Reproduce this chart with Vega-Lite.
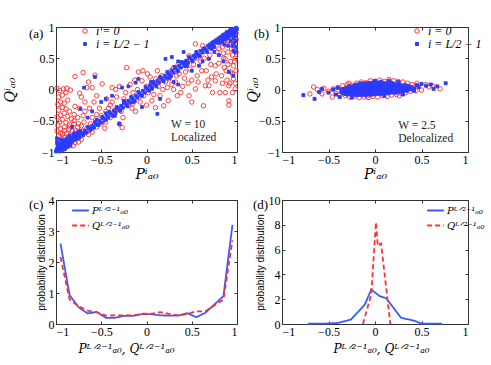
{
"$schema":"https://vega.github.io/schema/vega-lite/v6.json",
"padding":{"left":2,"top":20,"right":5,"bottom":5},
"config":{
"font":"Liberation Serif",
"view":{"stroke":"#333","strokeWidth":1},
"axis":{"grid":false,"domain":false,"tickColor":"#333","tickSize":-3,"labelFont":"Liberation Serif","labelFontSize":12,"labelColor":"#000","titleFont":"DejaVu Serif","titleFontSize":14,"titleFontWeight":"normal","titleFontStyle":"italic","titleColor":"#000","labelPadding":5},
"legend":{"title":null},
"title":{"font":"Liberation Serif","fontSize":13,"fontWeight":"normal","anchor":"start","frame":"group","offset":0,"baseline":"middle","color":"#000"}
},
"datasets":{
"a":[
{"p":-0.95,"q":-0.7,"s":"r"},{"p":-0.9,"q":-0.66,"s":"r"},{"p":-0.85,"q":-0.6,"s":"r"},{"p":-0.8,"q":-0.5,"s":"r"},{"p":-0.75,"q":-0.55,"s":"r"},{"p":-0.7,"q":-0.66,"s":"r"},{"p":-0.68,"q":-0.35,"s":"r"},{"p":-0.63,"q":-0.3,"s":"r"},{"p":-0.58,"q":-0.2,"s":"r"},{"p":-0.55,"q":-0.4,"s":"r"},{"p":-0.5,"q":-0.55,"s":"r"},{"p":-0.46,"q":-0.62,"s":"r"},{"p":-0.42,"q":-0.3,"s":"r"},{"p":-0.38,"q":-0.2,"s":"r"},{"p":-0.33,"q":-0.12,"s":"r"},{"p":-0.3,"q":0.05,"s":"r"},{"p":-0.26,"q":-0.45,"s":"r"},{"p":-0.23,"q":-0.05,"s":"r"},{"p":-0.18,"q":0.08,"s":"r"},{"p":-0.16,"q":-0.3,"s":"r"},{"p":-0.13,"q":0.15,"s":"r"},{"p":-0.07,"q":-0.2,"s":"r"},{"p":-0.04,"q":0.3,"s":"r"},{"p":0.0,"q":-0.25,"s":"r"},{"p":0.04,"q":0.2,"s":"r"},{"p":0.08,"q":-0.08,"s":"r"},{"p":0.12,"q":0.3,"s":"r"},{"p":0.18,"q":0.0,"s":"r"},{"p":0.24,"q":-0.18,"s":"r"},{"p":0.28,"q":0.08,"s":"r"},{"p":0.33,"q":0.22,"s":"r"},{"p":0.38,"q":-0.05,"s":"r"},{"p":0.43,"q":0.28,"s":"r"},{"p":0.46,"q":0.1,"s":"r"},{"p":0.52,"q":0.4,"s":"r"},{"p":0.57,"q":0.12,"s":"r"},{"p":0.61,"q":0.3,"s":"r"},{"p":0.64,"q":0.5,"s":"r"},{"p":0.68,"q":0.15,"s":"r"},{"p":0.71,"q":0.4,"s":"r"},{"p":0.73,"q":-0.05,"s":"r"},{"p":0.77,"q":0.25,"s":"r"},{"p":0.8,"q":0.65,"s":"r"},{"p":0.84,"q":0.1,"s":"r"},{"p":0.88,"q":0.3,"s":"r"},{"p":0.9,"q":0.4,"s":"r"},{"p":0.94,"q":0.65,"s":"r"},{"p":0.97,"q":0.45,"s":"r"},{"p":0.99,"q":0.6,"s":"r"},{"p":0.95,"q":0.25,"s":"r"},{"p":0.92,"q":0.1,"s":"r"},{"p":0.85,"q":0.58,"s":"r"},{"p":0.89,"q":0.72,"s":"r"},{"p":0.99,"q":0.8,"s":"r"},{"p":0.94,"q":0.76,"s":"r"},
{"p":-0.99,"q":-0.97,"s":"r"},{"p":-0.97,"q":-0.93,"s":"r"},{"p":-0.95,"q":-0.98,"s":"r"},{"p":-0.93,"q":-0.9,"s":"r"},{"p":-0.91,"q":-0.95,"s":"r"},{"p":-0.98,"q":-0.88,"s":"r"},{"p":-0.96,"q":-0.84,"s":"r"},{"p":-0.92,"q":-0.86,"s":"r"},{"p":-0.89,"q":-0.9,"s":"r"},{"p":-0.87,"q":-0.84,"s":"r"},{"p":-0.85,"q":-0.88,"s":"r"},{"p":-0.83,"q":-0.82,"s":"r"},{"p":-0.81,"q":-0.9,"s":"r"},{"p":-0.79,"q":-0.85,"s":"r"},{"p":-0.94,"q":-0.79,"s":"r"},{"p":-0.9,"q":-0.77,"s":"r"},{"p":-0.86,"q":-0.76,"s":"r"},{"p":-0.97,"q":-0.74,"s":"r"},{"p":-0.93,"q":-0.71,"s":"r"},{"p":-0.88,"q":-0.7,"s":"r"},{"p":-0.84,"q":-0.73,"s":"r"},{"p":-0.8,"q":-0.76,"s":"r"},{"p":-0.77,"q":-0.78,"s":"r"},{"p":-0.75,"q":-0.84,"s":"r"},{"p":-0.72,"q":-0.8,"s":"r"},{"p":-0.99,"q":-0.66,"s":"r"},{"p":-0.95,"q":-0.63,"s":"r"},{"p":-0.91,"q":-0.6,"s":"r"},{"p":-0.86,"q":-0.64,"s":"r"},{"p":-0.82,"q":-0.67,"s":"r"},{"p":-0.78,"q":-0.66,"s":"r"},{"p":-0.74,"q":-0.7,"s":"r"},
{"p":-0.98,"q":-0.57,"s":"r"},{"p":-0.96,"q":-0.52,"s":"r"},{"p":-0.93,"q":-0.48,"s":"r"},{"p":-0.89,"q":-0.53,"s":"r"},{"p":-0.85,"q":-0.56,"s":"r"},{"p":-0.99,"q":-0.44,"s":"r"},{"p":-0.95,"q":-0.41,"s":"r"},{"p":-0.91,"q":-0.38,"s":"r"},{"p":-0.87,"q":-0.43,"s":"r"},{"p":-0.83,"q":-0.47,"s":"r"},{"p":-0.97,"q":-0.33,"s":"r"},{"p":-0.93,"q":-0.29,"s":"r"},{"p":-0.89,"q":-0.31,"s":"r"},{"p":-0.85,"q":-0.35,"s":"r"},{"p":-0.98,"q":-0.24,"s":"r"},{"p":-0.95,"q":-0.2,"s":"r"},{"p":-0.91,"q":-0.22,"s":"r"},{"p":-0.87,"q":-0.17,"s":"r"},{"p":-0.97,"q":-0.12,"s":"r"},{"p":-0.93,"q":-0.09,"s":"r"},{"p":-0.89,"q":-0.05,"s":"r"},{"p":-0.96,"q":-0.02,"s":"r"},{"p":-0.92,"q":0.01,"s":"r"},{"p":-0.88,"q":0.02,"s":"r"},{"p":-0.84,"q":-0.01,"s":"r"},{"p":-0.99,"q":0.02,"s":"r"},
{"p":-0.8,"q":-0.55,"s":"r"},{"p":-0.76,"q":-0.6,"s":"r"},{"p":-0.72,"q":-0.58,"s":"r"},{"p":-0.8,"q":-0.4,"s":"r"},{"p":-0.76,"q":-0.45,"s":"r"},{"p":-0.7,"q":-0.42,"s":"r"},{"p":-0.79,"q":-0.27,"s":"r"},{"p":-0.74,"q":-0.3,"s":"r"},{"p":-0.69,"q":-0.52,"s":"r"},{"p":-0.66,"q":-0.62,"s":"r"},{"p":-0.64,"q":-0.72,"s":"r"},{"p":-0.62,"q":-0.55,"s":"r"},{"p":-0.6,"q":-0.45,"s":"r"},{"p":-0.72,"q":-0.12,"s":"r"},{"p":-0.68,"q":-0.2,"s":"r"},{"p":-0.74,"q":-0.06,"s":"r"},{"p":-0.79,"q":0.21,"s":"r"},{"p":-0.7,"q":0.27,"s":"r"},{"p":-0.66,"q":0.03,"s":"r"},{"p":-0.6,"q":0.03,"s":"r"},{"p":-0.57,"q":0.23,"s":"r"},{"p":-0.64,"q":0.12,"s":"r"},{"p":-0.55,"q":-0.1,"s":"r"},{"p":-0.52,"q":-0.3,"s":"r"},{"p":-0.5,"q":-0.42,"s":"r"},{"p":-0.48,"q":-0.5,"s":"r"},{"p":-0.45,"q":-0.35,"s":"r"},{"p":-0.44,"q":-0.15,"s":"r"},{"p":-0.49,"q":0.09,"s":"r"},{"p":-0.38,"q":0.03,"s":"r"},{"p":-0.34,"q":0.0,"s":"r"},{"p":-0.4,"q":-0.25,"s":"r"},{"p":-0.36,"q":-0.4,"s":"r"},{"p":-0.3,"q":-0.55,"s":"r"},{"p":-0.27,"q":-0.61,"s":"r"},{"p":-0.32,"q":-0.3,"s":"r"},
{"p":-0.25,"q":-0.15,"s":"r"},{"p":-0.22,"q":0.35,"s":"r"},{"p":-0.2,"q":-0.25,"s":"r"},{"p":-0.15,"q":-0.05,"s":"r"},{"p":-0.12,"q":-0.35,"s":"r"},{"p":-0.1,"q":0.0,"s":"r"},{"p":-0.09,"q":0.28,"s":"r"},{"p":-0.05,"q":0.14,"s":"r"},{"p":-0.03,"q":-0.1,"s":"r"},{"p":0.01,"q":0.25,"s":"r"},{"p":0.02,"q":-0.05,"s":"r"},{"p":0.05,"q":0.08,"s":"r"},{"p":0.06,"q":-0.18,"s":"r"},{"p":0.1,"q":-0.29,"s":"r"},{"p":0.1,"q":0.17,"s":"r"},{"p":0.13,"q":0.05,"s":"r"},{"p":0.15,"q":-0.1,"s":"r"},{"p":0.17,"q":0.22,"s":"r"},{"p":0.19,"q":-0.26,"s":"r"},{"p":0.21,"q":0.12,"s":"r"},{"p":0.23,"q":0.03,"s":"r"},{"p":0.25,"q":0.17,"s":"r"},{"p":0.27,"q":0.3,"s":"r"},{"p":0.3,"q":0.0,"s":"r"},{"p":0.32,"q":0.12,"s":"r"},{"p":0.34,"q":-0.1,"s":"r"},{"p":0.36,"q":0.25,"s":"r"},{"p":0.39,"q":0.38,"s":"r"},{"p":0.4,"q":0.05,"s":"r"},{"p":0.42,"q":0.18,"s":"r"},{"p":0.44,"q":0.45,"s":"r"},{"p":0.47,"q":0.54,"s":"r"},{"p":0.47,"q":-0.1,"s":"r"},{"p":0.48,"q":0.33,"s":"r"},{"p":0.5,"q":-0.2,"s":"r"},{"p":0.5,"q":0.15,"s":"r"},{"p":0.54,"q":0.73,"s":"r"},{"p":0.54,"q":0.01,"s":"r"},{"p":0.56,"q":0.22,"s":"r"},{"p":0.58,"q":0.6,"s":"r"},{"p":0.6,"q":0.45,"s":"r"},{"p":0.62,"q":0.7,"s":"r"},{"p":0.63,"q":-0.26,"s":"r"},{"p":0.65,"q":0.06,"s":"r"},{"p":0.66,"q":0.3,"s":"r"},{"p":0.69,"q":0.06,"s":"r"},{"p":0.7,"q":0.55,"s":"r"},{"p":0.72,"q":0.2,"s":"r"},{"p":0.74,"q":0.75,"s":"r"},{"p":0.76,"q":0.38,"s":"r"},{"p":0.76,"q":0.14,"s":"r"},{"p":0.78,"q":0.6,"s":"r"},
{"p":0.8,"q":0.42,"s":"r"},{"p":0.81,"q":-0.05,"s":"r"},{"p":0.83,"q":0.22,"s":"r"},{"p":0.84,"q":0.68,"s":"r"},{"p":0.85,"q":0.5,"s":"r"},{"p":0.86,"q":0.35,"s":"r"},{"p":0.87,"q":-0.05,"s":"r"},{"p":0.87,"q":0.49,"s":"r"},{"p":0.88,"q":0.8,"s":"r"},{"p":0.89,"q":0.15,"s":"r"},{"p":0.9,"q":0.6,"s":"r"},{"p":0.91,"q":0.06,"s":"r"},{"p":0.91,"q":-0.18,"s":"r"},{"p":0.91,"q":-0.25,"s":"r"},{"p":0.92,"q":0.72,"s":"r"},{"p":0.93,"q":0.28,"s":"r"},{"p":0.93,"q":0.45,"s":"r"},{"p":0.94,"q":0.88,"s":"r"},{"p":0.95,"q":0.55,"s":"r"},{"p":0.96,"q":0.17,"s":"r"},{"p":0.96,"q":0.38,"s":"r"},{"p":0.97,"q":0.78,"s":"r"},{"p":0.97,"q":0.65,"s":"r"},{"p":0.98,"q":0.01,"s":"r"},{"p":0.98,"q":0.5,"s":"r"},{"p":0.99,"q":0.9,"s":"r"},{"p":0.99,"q":0.3,"s":"r"},{"p":0.96,"q":0.95,"s":"r"},{"p":0.93,"q":0.92,"s":"r"},{"p":0.9,"q":0.86,"s":"r"},{"p":0.86,"q":0.82,"s":"r"},{"p":0.82,"q":0.76,"s":"r"},{"p":0.98,"q":0.1,"s":"r"},{"p":0.95,"q":-0.05,"s":"r"},
{"p":-0.6,"q":-0.68,"s":"r"},{"p":-0.55,"q":-0.6,"s":"r"},{"p":-0.45,"q":-0.52,"s":"r"},{"p":-0.4,"q":-0.45,"s":"r"},{"p":-0.35,"q":-0.33,"s":"r"},{"p":-0.28,"q":-0.35,"s":"r"},{"p":-0.2,"q":-0.2,"s":"r"},{"p":-0.15,"q":-0.22,"s":"r"},{"p":-0.08,"q":-0.12,"s":"r"},{"p":0.0,"q":0.05,"s":"r"},{"p":0.08,"q":0.1,"s":"r"},{"p":0.15,"q":0.18,"s":"r"},{"p":0.22,"q":0.2,"s":"r"},{"p":0.3,"q":0.35,"s":"r"},{"p":0.35,"q":0.4,"s":"r"},{"p":0.45,"q":0.42,"s":"r"},{"p":0.55,"q":0.5,"s":"r"},{"p":0.65,"q":0.62,"s":"r"},{"p":0.7,"q":0.68,"s":"r"},
{"p":-1.0,"q":-0.99,"s":"b"},{"p":-0.99,"q":-0.95,"s":"b"},{"p":-0.98,"q":-0.98,"s":"b"},{"p":-0.97,"q":-0.93,"s":"b"},{"p":-0.96,"q":-0.96,"s":"b"},{"p":-0.95,"q":-0.9,"s":"b"},{"p":-0.94,"q":-0.94,"s":"b"},{"p":-0.93,"q":-0.88,"s":"b"},{"p":-0.92,"q":-0.92,"s":"b"},{"p":-0.91,"q":-0.86,"s":"b"},{"p":-0.9,"q":-0.9,"s":"b"},{"p":-0.89,"q":-0.84,"s":"b"},{"p":-0.88,"q":-0.88,"s":"b"},{"p":-0.87,"q":-0.82,"s":"b"},{"p":-0.86,"q":-0.86,"s":"b"},{"p":-0.85,"q":-0.8,"s":"b"},{"p":-0.84,"q":-0.85,"s":"b"},{"p":-0.83,"q":-0.78,"s":"b"},{"p":-0.82,"q":-0.83,"s":"b"},{"p":-0.81,"q":-0.77,"s":"b"},{"p":-0.8,"q":-0.81,"s":"b"},{"p":-0.78,"q":-0.75,"s":"b"},{"p":-0.77,"q":-0.79,"s":"b"},{"p":-0.75,"q":-0.73,"s":"b"},{"p":-0.74,"q":-0.77,"s":"b"},{"p":-0.72,"q":-0.7,"s":"b"},{"p":-0.7,"q":-0.73,"s":"b"},{"p":-0.68,"q":-0.66,"s":"b"},{"p":-0.66,"q":-0.69,"s":"b"},{"p":-0.64,"q":-0.62,"s":"b"},{"p":-0.62,"q":-0.65,"s":"b"},{"p":-0.6,"q":-0.58,"s":"b"},{"p":-0.58,"q":-0.61,"s":"b"},{"p":-0.56,"q":-0.55,"s":"b"},{"p":-0.54,"q":-0.57,"s":"b"},{"p":-0.52,"q":-0.5,"s":"b"},{"p":-0.5,"q":-0.53,"s":"b"},{"p":-0.48,"q":-0.46,"s":"b"},{"p":-0.46,"q":-0.49,"s":"b"},{"p":-0.44,"q":-0.42,"s":"b"},{"p":-0.42,"q":-0.45,"s":"b"},{"p":-0.4,"q":-0.38,"s":"b"},{"p":-0.38,"q":-0.41,"s":"b"},{"p":-0.36,"q":-0.34,"s":"b"},{"p":-0.34,"q":-0.37,"s":"b"},{"p":-0.32,"q":-0.3,"s":"b"},{"p":-0.3,"q":-0.33,"s":"b"},{"p":-0.28,"q":-0.26,"s":"b"},{"p":-0.26,"q":-0.29,"s":"b"},{"p":-0.24,"q":-0.22,"s":"b"},{"p":-0.22,"q":-0.25,"s":"b"},{"p":-0.2,"q":-0.18,"s":"b"},{"p":-0.18,"q":-0.21,"s":"b"},{"p":-0.16,"q":-0.14,"s":"b"},{"p":-0.14,"q":-0.17,"s":"b"},{"p":-0.12,"q":-0.1,"s":"b"},{"p":-0.1,"q":-0.13,"s":"b"},{"p":-0.08,"q":-0.06,"s":"b"},{"p":-0.06,"q":-0.09,"s":"b"},{"p":-0.04,"q":-0.02,"s":"b"},{"p":-0.02,"q":-0.05,"s":"b"},{"p":0.0,"q":0.02,"s":"b"},{"p":0.02,"q":-0.01,"s":"b"},{"p":0.04,"q":0.06,"s":"b"},{"p":0.06,"q":0.03,"s":"b"},{"p":0.08,"q":0.1,"s":"b"},{"p":0.1,"q":0.07,"s":"b"},{"p":0.12,"q":0.14,"s":"b"},{"p":0.14,"q":0.11,"s":"b"},{"p":0.16,"q":0.18,"s":"b"},{"p":0.18,"q":0.15,"s":"b"},{"p":0.2,"q":0.22,"s":"b"},{"p":0.22,"q":0.19,"s":"b"},{"p":0.24,"q":0.26,"s":"b"},{"p":0.26,"q":0.23,"s":"b"},{"p":0.28,"q":0.3,"s":"b"},{"p":0.3,"q":0.27,"s":"b"},{"p":0.32,"q":0.34,"s":"b"},{"p":0.34,"q":0.31,"s":"b"},{"p":0.36,"q":0.38,"s":"b"},{"p":0.38,"q":0.35,"s":"b"},{"p":0.4,"q":0.42,"s":"b"},{"p":0.42,"q":0.39,"s":"b"},{"p":0.44,"q":0.46,"s":"b"},{"p":0.46,"q":0.43,"s":"b"},{"p":0.48,"q":0.5,"s":"b"},{"p":0.5,"q":0.47,"s":"b"},{"p":0.52,"q":0.54,"s":"b"},{"p":0.54,"q":0.51,"s":"b"},{"p":0.56,"q":0.58,"s":"b"},{"p":0.58,"q":0.55,"s":"b"},{"p":0.6,"q":0.62,"s":"b"},{"p":0.62,"q":0.59,"s":"b"},{"p":0.64,"q":0.66,"s":"b"},{"p":0.66,"q":0.63,"s":"b"},{"p":0.68,"q":0.7,"s":"b"},{"p":0.7,"q":0.67,"s":"b"},{"p":0.72,"q":0.74,"s":"b"},{"p":0.74,"q":0.71,"s":"b"},{"p":0.76,"q":0.78,"s":"b"},{"p":0.78,"q":0.75,"s":"b"},{"p":0.8,"q":0.82,"s":"b"},{"p":0.82,"q":0.79,"s":"b"},{"p":0.84,"q":0.86,"s":"b"},{"p":0.86,"q":0.83,"s":"b"},{"p":0.88,"q":0.9,"s":"b"},{"p":0.9,"q":0.87,"s":"b"},{"p":0.92,"q":0.94,"s":"b"},{"p":0.94,"q":0.91,"s":"b"},{"p":0.96,"q":0.97,"s":"b"},{"p":0.98,"q":0.95,"s":"b"},{"p":0.99,"q":0.99,"s":"b"},{"p":1.0,"q":0.97,"s":"b"},
{"p":-0.97,"q":-0.9,"s":"b"},{"p":-0.93,"q":-0.84,"s":"b"},{"p":-0.89,"q":-0.8,"s":"b"},{"p":-0.85,"q":-0.83,"s":"b"},{"p":-0.81,"q":-0.74,"s":"b"},{"p":-0.77,"q":-0.72,"s":"b"},{"p":-0.73,"q":-0.66,"s":"b"},{"p":-0.69,"q":-0.7,"s":"b"},{"p":-0.65,"q":-0.6,"s":"b"},{"p":-0.61,"q":-0.63,"s":"b"},{"p":-0.57,"q":-0.52,"s":"b"},{"p":-0.53,"q":-0.56,"s":"b"},{"p":-0.49,"q":-0.44,"s":"b"},{"p":-0.45,"q":-0.48,"s":"b"},{"p":-0.41,"q":-0.36,"s":"b"},{"p":-0.37,"q":-0.42,"s":"b"},{"p":-0.33,"q":-0.28,"s":"b"},{"p":-0.29,"q":-0.34,"s":"b"},{"p":-0.25,"q":-0.21,"s":"b"},{"p":-0.21,"q":-0.27,"s":"b"},{"p":-0.17,"q":-0.12,"s":"b"},{"p":-0.13,"q":-0.19,"s":"b"},{"p":-0.09,"q":-0.04,"s":"b"},{"p":-0.05,"q":-0.1,"s":"b"},{"p":-0.01,"q":0.04,"s":"b"},{"p":0.03,"q":-0.02,"s":"b"},{"p":0.07,"q":0.12,"s":"b"},{"p":0.11,"q":0.05,"s":"b"},{"p":0.15,"q":0.2,"s":"b"},{"p":0.19,"q":0.13,"s":"b"},{"p":0.23,"q":0.28,"s":"b"},{"p":0.27,"q":0.21,"s":"b"},{"p":0.31,"q":0.36,"s":"b"},{"p":0.35,"q":0.29,"s":"b"},{"p":0.39,"q":0.44,"s":"b"},{"p":0.43,"q":0.37,"s":"b"},{"p":0.47,"q":0.52,"s":"b"},{"p":0.51,"q":0.45,"s":"b"},{"p":0.55,"q":0.57,"s":"b"},{"p":0.59,"q":0.53,"s":"b"},{"p":0.63,"q":0.65,"s":"b"},{"p":0.67,"q":0.6,"s":"b"},{"p":0.71,"q":0.7,"s":"b"},{"p":0.75,"q":0.68,"s":"b"},{"p":0.79,"q":0.78,"s":"b"},{"p":0.83,"q":0.77,"s":"b"},{"p":0.87,"q":0.86,"s":"b"},{"p":0.91,"q":0.89,"s":"b"},{"p":0.95,"q":0.92,"s":"b"},{"p":0.97,"q":0.88,"s":"b"},
{"p":0.8,"q":0.74,"s":"b"},{"p":0.84,"q":0.76,"s":"b"},{"p":0.87,"q":0.8,"s":"b"},{"p":0.9,"q":0.82,"s":"b"},{"p":0.92,"q":0.85,"s":"b"},{"p":0.95,"q":0.88,"s":"b"},{"p":0.97,"q":0.9,"s":"b"},{"p":0.99,"q":0.92,"s":"b"},{"p":0.93,"q":0.78,"s":"b"},{"p":0.96,"q":0.82,"s":"b"},{"p":0.98,"q":0.85,"s":"b"},{"p":0.97,"q":0.74,"s":"b"},{"p":0.99,"q":0.78,"s":"b"},{"p":0.95,"q":0.7,"s":"b"},{"p":0.99,"q":0.68,"s":"b"},{"p":0.98,"q":0.6,"s":"b"},{"p":0.96,"q":0.62,"s":"b"},{"p":0.9,"q":0.7,"s":"b"},{"p":0.86,"q":0.72,"s":"b"},{"p":0.97,"q":0.97,"s":"b"},{"p":0.95,"q":0.95,"s":"b"},{"p":0.93,"q":0.96,"s":"b"},{"p":0.91,"q":0.92,"s":"b"},{"p":0.89,"q":0.92,"s":"b"},{"p":0.85,"q":0.88,"s":"b"},{"p":0.82,"q":0.84,"s":"b"},{"p":0.78,"q":0.8,"s":"b"},{"p":0.74,"q":0.76,"s":"b"},{"p":0.7,"q":0.72,"s":"b"},
{"p":-0.98,"q":-0.9,"s":"b"},{"p":-0.96,"q":-0.86,"s":"b"},{"p":-0.97,"q":-0.99,"s":"b"},{"p":-0.93,"q":-0.97,"s":"b"},{"p":-0.9,"q":-0.95,"s":"b"},{"p":-0.87,"q":-0.92,"s":"b"},{"p":-0.84,"q":-0.9,"s":"b"},{"p":-0.95,"q":-0.8,"s":"b"},{"p":-0.99,"q":-0.84,"s":"b"},{"p":-0.99,"q":-0.78,"s":"b"},{"p":-0.92,"q":-0.81,"s":"b"},{"p":-0.88,"q":-0.78,"s":"b"},{"p":-0.85,"q":-0.74,"s":"b"},{"p":-0.8,"q":-0.7,"s":"b"},{"p":-0.76,"q":-0.68,"s":"b"},
{"p":-0.55,"q":-0.48,"s":"b"},{"p":-0.45,"q":-0.38,"s":"b"},{"p":-0.35,"q":-0.42,"s":"b"},{"p":-0.25,"q":-0.18,"s":"b"},{"p":-0.15,"q":-0.2,"s":"b"},{"p":0.05,"q":0.12,"s":"b"},{"p":0.25,"q":0.18,"s":"b"},{"p":0.35,"q":0.45,"s":"b"},{"p":0.45,"q":0.38,"s":"b"},{"p":0.55,"q":0.6,"s":"b"},
{"p":-0.69,"q":0.03,"s":"b"},{"p":-0.57,"q":0.2,"s":"b"},{"p":-0.45,"q":-0.15,"s":"b"},{"p":-0.73,"q":-0.31,"s":"b"},{"p":-0.27,"q":0.03,"s":"b"},{"p":-0.12,"q":0.11,"s":"b"},{"p":-0.09,"q":0.17,"s":"b"},{"p":0.06,"q":0.01,"s":"b"},{"p":0.15,"q":-0.15,"s":"b"},{"p":0.12,"q":-0.39,"s":"b"},{"p":0.21,"q":0.49,"s":"b"},{"p":0.28,"q":0.52,"s":"b"},{"p":0.41,"q":0.6,"s":"b"},{"p":0.43,"q":0.44,"s":"b"},{"p":0.58,"q":0.38,"s":"b"},{"p":0.69,"q":0.49,"s":"b"},{"p":0.72,"q":0.65,"s":"b"},{"p":0.91,"q":0.28,"s":"b"},{"p":0.96,"q":0.22,"s":"b"},{"p":-0.6,"q":-0.35,"s":"b"},{"p":-0.5,"q":-0.2,"s":"b"},{"p":-0.38,"q":-0.1,"s":"b"},{"p":-0.2,"q":0.05,"s":"b"},{"p":-0.3,"q":-0.55,"s":"b"},{"p":0.3,"q":0.12,"s":"b"},{"p":0.5,"q":0.3,"s":"b"},{"p":0.62,"q":0.45,"s":"b"},{"p":0.8,"q":0.55,"s":"b"},{"p":0.85,"q":0.45,"s":"b"},{"p":0.75,"q":0.6,"s":"b"},{"p":-0.05,"q":-0.28,"s":"b"},{"p":0.35,"q":0.08,"s":"b"},{"p":-0.65,"q":-0.45,"s":"b"},{"p":-0.82,"q":-0.6,"s":"b"}
],
"b":[
{"p":-0.66,"q":0.04,"s":"r"},{"p":-0.7,"q":-0.07,"s":"r"},{"p":-0.57,"q":-0.07,"s":"r"},{"p":-0.55,"q":0.02,"s":"r"},{"p":-0.5,"q":-0.03,"s":"r"},{"p":-0.46,"q":-0.12,"s":"r"},{"p":-0.62,"q":0.0,"s":"r"},{"p":0.7,"q":0.01,"s":"r"},{"p":0.58,"q":0.04,"s":"r"},{"p":0.5,"q":-0.01,"s":"r"},{"p":0.55,"q":0.08,"s":"r"},{"p":0.62,"q":0.06,"s":"r"},{"p":0.45,"q":0.1,"s":"r"},{"p":0.44,"q":-0.02,"s":"r"},
{"p":-0.4,"q":0.03,"s":"r"},{"p":-0.35,"q":0.06,"s":"r"},{"p":-0.3,"q":0.08,"s":"r"},{"p":-0.25,"q":0.07,"s":"r"},{"p":-0.2,"q":0.1,"s":"r"},{"p":-0.15,"q":0.12,"s":"r"},{"p":-0.1,"q":0.11,"s":"r"},{"p":-0.05,"q":0.14,"s":"r"},{"p":0.0,"q":0.12,"s":"r"},{"p":0.05,"q":0.15,"s":"r"},{"p":0.1,"q":0.13,"s":"r"},{"p":0.15,"q":0.16,"s":"r"},{"p":0.2,"q":0.14,"s":"r"},{"p":0.25,"q":0.13,"s":"r"},{"p":0.3,"q":0.12,"s":"r"},{"p":0.35,"q":0.1,"s":"r"},{"p":0.4,"q":0.08,"s":"r"},{"p":-0.12,"q":0.08,"s":"r"},{"p":0.08,"q":0.09,"s":"r"},{"p":0.18,"q":0.1,"s":"r"},
{"p":-0.42,"q":-0.06,"s":"r"},{"p":-0.38,"q":-0.09,"s":"r"},{"p":-0.32,"q":-0.1,"s":"r"},{"p":-0.27,"q":-0.12,"s":"r"},{"p":-0.22,"q":-0.11,"s":"r"},{"p":-0.17,"q":-0.13,"s":"r"},{"p":-0.12,"q":-0.12,"s":"r"},{"p":-0.07,"q":-0.13,"s":"r"},{"p":-0.02,"q":-0.11,"s":"r"},{"p":0.03,"q":-0.12,"s":"r"},{"p":0.08,"q":-0.1,"s":"r"},{"p":0.13,"q":-0.11,"s":"r"},{"p":0.18,"q":-0.09,"s":"r"},{"p":0.23,"q":-0.08,"s":"r"},{"p":0.28,"q":-0.06,"s":"r"},{"p":0.33,"q":-0.05,"s":"r"},{"p":0.38,"q":-0.03,"s":"r"},{"p":-0.05,"q":-0.08,"s":"r"},{"p":0.1,"q":-0.07,"s":"r"},
{"p":-0.3,"q":-0.02,"s":"r"},{"p":-0.2,"q":0.0,"s":"r"},{"p":-0.1,"q":0.02,"s":"r"},{"p":0.0,"q":-0.02,"s":"r"},{"p":0.1,"q":0.03,"s":"r"},{"p":0.2,"q":0.02,"s":"r"},{"p":0.3,"q":0.04,"s":"r"},{"p":-0.25,"q":0.03,"s":"r"},{"p":0.15,"q":-0.03,"s":"r"},{"p":-0.36,"q":-0.04,"s":"r"},{"p":0.36,"q":0.05,"s":"r"},{"p":-0.45,"q":0.01,"s":"r"},{"p":0.42,"q":0.04,"s":"r"},{"p":-0.28,"q":0.1,"s":"r"},{"p":0.26,"q":-0.1,"s":"r"},{"p":0.05,"q":0.1,"s":"r"},{"p":-0.08,"q":-0.1,"s":"r"},
{"p":-0.34,"q":-0.06,"s":"b"},{"p":-0.34,"q":-0.02,"s":"b"},{"p":-0.34,"q":0.01,"s":"b"},
{"p":-0.3,"q":-0.08,"s":"b"},{"p":-0.3,"q":-0.04,"s":"b"},{"p":-0.3,"q":0.0,"s":"b"},{"p":-0.3,"q":0.03,"s":"b"},
{"p":-0.26,"q":-0.08,"s":"b"},{"p":-0.26,"q":-0.04,"s":"b"},{"p":-0.26,"q":0.0,"s":"b"},{"p":-0.26,"q":0.04,"s":"b"},
{"p":-0.22,"q":-0.09,"s":"b"},{"p":-0.22,"q":-0.05,"s":"b"},{"p":-0.22,"q":-0.01,"s":"b"},{"p":-0.22,"q":0.03,"s":"b"},{"p":-0.22,"q":0.06,"s":"b"},
{"p":-0.18,"q":-0.09,"s":"b"},{"p":-0.18,"q":-0.05,"s":"b"},{"p":-0.18,"q":-0.01,"s":"b"},{"p":-0.18,"q":0.03,"s":"b"},{"p":-0.18,"q":0.07,"s":"b"},
{"p":-0.14,"q":-0.09,"s":"b"},{"p":-0.14,"q":-0.05,"s":"b"},{"p":-0.14,"q":-0.01,"s":"b"},{"p":-0.14,"q":0.03,"s":"b"},{"p":-0.14,"q":0.07,"s":"b"},
{"p":-0.1,"q":-0.09,"s":"b"},{"p":-0.1,"q":-0.05,"s":"b"},{"p":-0.1,"q":-0.01,"s":"b"},{"p":-0.1,"q":0.03,"s":"b"},{"p":-0.1,"q":0.07,"s":"b"},{"p":-0.1,"q":0.1,"s":"b"},
{"p":-0.06,"q":-0.08,"s":"b"},{"p":-0.06,"q":-0.04,"s":"b"},{"p":-0.06,"q":0.0,"s":"b"},{"p":-0.06,"q":0.04,"s":"b"},{"p":-0.06,"q":0.08,"s":"b"},{"p":-0.06,"q":0.1,"s":"b"},
{"p":-0.02,"q":-0.08,"s":"b"},{"p":-0.02,"q":-0.04,"s":"b"},{"p":-0.02,"q":0.0,"s":"b"},{"p":-0.02,"q":0.04,"s":"b"},{"p":-0.02,"q":0.08,"s":"b"},{"p":-0.02,"q":0.11,"s":"b"},
{"p":0.02,"q":-0.07,"s":"b"},{"p":0.02,"q":-0.03,"s":"b"},{"p":0.02,"q":0.01,"s":"b"},{"p":0.02,"q":0.05,"s":"b"},{"p":0.02,"q":0.09,"s":"b"},{"p":0.02,"q":0.11,"s":"b"},
{"p":0.06,"q":-0.07,"s":"b"},{"p":0.06,"q":-0.03,"s":"b"},{"p":0.06,"q":0.01,"s":"b"},{"p":0.06,"q":0.05,"s":"b"},{"p":0.06,"q":0.09,"s":"b"},{"p":0.06,"q":0.12,"s":"b"},
{"p":0.1,"q":-0.06,"s":"b"},{"p":0.1,"q":-0.02,"s":"b"},{"p":0.1,"q":0.02,"s":"b"},{"p":0.1,"q":0.06,"s":"b"},{"p":0.1,"q":0.1,"s":"b"},
{"p":0.14,"q":-0.06,"s":"b"},{"p":0.14,"q":-0.02,"s":"b"},{"p":0.14,"q":0.02,"s":"b"},{"p":0.14,"q":0.06,"s":"b"},{"p":0.14,"q":0.1,"s":"b"},
{"p":0.18,"q":-0.05,"s":"b"},{"p":0.18,"q":-0.01,"s":"b"},{"p":0.18,"q":0.03,"s":"b"},{"p":0.18,"q":0.07,"s":"b"},{"p":0.18,"q":0.1,"s":"b"},
{"p":0.22,"q":-0.05,"s":"b"},{"p":0.22,"q":-0.01,"s":"b"},{"p":0.22,"q":0.03,"s":"b"},{"p":0.22,"q":0.07,"s":"b"},
{"p":0.26,"q":-0.04,"s":"b"},{"p":0.26,"q":0.0,"s":"b"},{"p":0.26,"q":0.04,"s":"b"},{"p":0.26,"q":0.08,"s":"b"},
{"p":0.3,"q":-0.03,"s":"b"},{"p":0.3,"q":0.01,"s":"b"},{"p":0.3,"q":0.05,"s":"b"},
{"p":0.34,"q":-0.02,"s":"b"},{"p":0.34,"q":0.02,"s":"b"},{"p":0.34,"q":0.06,"s":"b"},
{"p":0.38,"q":0.0,"s":"b"},{"p":0.38,"q":0.04,"s":"b"},{"p":0.42,"q":0.02,"s":"b"},
{"p":-0.36,"q":-0.04,"s":"b"},{"p":-0.36,"q":0.0,"s":"b"},{"p":-0.32,"q":-0.07,"s":"b"},{"p":-0.32,"q":-0.03,"s":"b"},{"p":-0.32,"q":0.01,"s":"b"},{"p":-0.28,"q":-0.06,"s":"b"},{"p":-0.28,"q":-0.02,"s":"b"},{"p":-0.28,"q":0.02,"s":"b"},{"p":-0.28,"q":0.05,"s":"b"},{"p":-0.24,"q":-0.07,"s":"b"},{"p":-0.24,"q":-0.03,"s":"b"},{"p":-0.24,"q":0.01,"s":"b"},{"p":-0.24,"q":0.05,"s":"b"},{"p":-0.2,"q":-0.07,"s":"b"},{"p":-0.2,"q":-0.03,"s":"b"},{"p":-0.2,"q":0.01,"s":"b"},{"p":-0.2,"q":0.05,"s":"b"},{"p":-0.2,"q":0.08,"s":"b"},{"p":-0.16,"q":-0.07,"s":"b"},{"p":-0.16,"q":-0.03,"s":"b"},{"p":-0.16,"q":0.01,"s":"b"},{"p":-0.16,"q":0.05,"s":"b"},{"p":-0.16,"q":0.09,"s":"b"},{"p":-0.12,"q":-0.07,"s":"b"},{"p":-0.12,"q":-0.03,"s":"b"},{"p":-0.12,"q":0.01,"s":"b"},{"p":-0.12,"q":0.05,"s":"b"},{"p":-0.12,"q":0.09,"s":"b"},{"p":-0.08,"q":-0.07,"s":"b"},{"p":-0.08,"q":-0.02,"s":"b"},{"p":-0.08,"q":0.02,"s":"b"},{"p":-0.08,"q":0.06,"s":"b"},{"p":-0.08,"q":0.09,"s":"b"},{"p":-0.04,"q":-0.06,"s":"b"},{"p":-0.04,"q":-0.02,"s":"b"},{"p":-0.04,"q":0.02,"s":"b"},{"p":-0.04,"q":0.06,"s":"b"},{"p":-0.04,"q":0.1,"s":"b"},{"p":0.0,"q":-0.06,"s":"b"},{"p":0.0,"q":-0.02,"s":"b"},{"p":0.0,"q":0.03,"s":"b"},{"p":0.0,"q":0.07,"s":"b"},{"p":0.0,"q":0.1,"s":"b"},{"p":0.04,"q":-0.05,"s":"b"},{"p":0.04,"q":-0.01,"s":"b"},{"p":0.04,"q":0.03,"s":"b"},{"p":0.04,"q":0.07,"s":"b"},{"p":0.04,"q":0.1,"s":"b"},{"p":0.08,"q":-0.05,"s":"b"},{"p":0.08,"q":0.0,"s":"b"},{"p":0.08,"q":0.04,"s":"b"},{"p":0.08,"q":0.08,"s":"b"},{"p":0.08,"q":0.11,"s":"b"},{"p":0.12,"q":-0.04,"s":"b"},{"p":0.12,"q":0.0,"s":"b"},{"p":0.12,"q":0.04,"s":"b"},{"p":0.12,"q":0.08,"s":"b"},{"p":0.16,"q":-0.04,"s":"b"},{"p":0.16,"q":0.01,"s":"b"},{"p":0.16,"q":0.05,"s":"b"},{"p":0.16,"q":0.08,"s":"b"},{"p":0.2,"q":-0.03,"s":"b"},{"p":0.2,"q":0.01,"s":"b"},{"p":0.2,"q":0.05,"s":"b"},{"p":0.2,"q":0.09,"s":"b"},{"p":0.24,"q":-0.03,"s":"b"},{"p":0.24,"q":0.02,"s":"b"},{"p":0.24,"q":0.06,"s":"b"},{"p":0.28,"q":-0.02,"s":"b"},{"p":0.28,"q":0.02,"s":"b"},{"p":0.28,"q":0.06,"s":"b"},{"p":0.32,"q":-0.01,"s":"b"},{"p":0.32,"q":0.03,"s":"b"},{"p":0.32,"q":0.07,"s":"b"},{"p":0.36,"q":0.01,"s":"b"},{"p":0.36,"q":0.05,"s":"b"},
{"p":-0.77,"q":-0.09,"s":"b"},{"p":-0.65,"q":-0.15,"s":"b"},{"p":-0.57,"q":0.01,"s":"b"},{"p":-0.5,"q":-0.05,"s":"b"},{"p":-0.45,"q":0.0,"s":"b"},{"p":-0.42,"q":-0.08,"s":"b"},{"p":-0.4,"q":0.03,"s":"b"},{"p":-0.38,"q":-0.12,"s":"b"},{"p":0.76,"q":0.1,"s":"b"},{"p":0.63,"q":0.01,"s":"b"},{"p":0.5,"q":0.09,"s":"b"},{"p":0.55,"q":0.06,"s":"b"},{"p":0.6,"q":0.08,"s":"b"},{"p":0.47,"q":0.04,"s":"b"},{"p":0.45,"q":0.07,"s":"b"},{"p":0.42,"q":-0.02,"s":"b"},{"p":0.3,"q":-0.08,"s":"b"},{"p":0.25,"q":0.12,"s":"b"},{"p":0.0,"q":0.14,"s":"b"},{"p":-0.15,"q":0.1,"s":"b"},{"p":0.15,"q":0.14,"s":"b"},{"p":-0.25,"q":-0.13,"s":"b"},{"p":0.1,"q":-0.1,"s":"b"},{"p":0.67,"q":0.05,"s":"b"},{"p":-0.6,"q":-0.04,"s":"b"}
],
"c":[
{"v":-0.95,"d":2.59,"s":"P"},{"v":-0.85,"d":0.93,"s":"P"},{"v":-0.75,"d":0.54,"s":"P"},{"v":-0.65,"d":0.34,"s":"P"},{"v":-0.55,"d":0.39,"s":"P"},{"v":-0.45,"d":0.2,"s":"P"},{"v":-0.35,"d":0.2,"s":"P"},{"v":-0.25,"d":0.26,"s":"P"},{"v":-0.15,"d":0.26,"s":"P"},{"v":-0.05,"d":0.32,"s":"P"},{"v":0.05,"d":0.32,"s":"P"},{"v":0.15,"d":0.28,"s":"P"},{"v":0.25,"d":0.27,"s":"P"},{"v":0.35,"d":0.27,"s":"P"},{"v":0.45,"d":0.35,"s":"P"},{"v":0.55,"d":0.22,"s":"P"},{"v":0.65,"d":0.36,"s":"P"},{"v":0.75,"d":0.63,"s":"P"},{"v":0.85,"d":0.9,"s":"P"},{"v":0.95,"d":3.2,"s":"P"},
{"v":-0.95,"d":2.16,"s":"Q"},{"v":-0.85,"d":0.79,"s":"Q"},{"v":-0.75,"d":0.57,"s":"Q"},{"v":-0.65,"d":0.43,"s":"Q"},{"v":-0.55,"d":0.38,"s":"Q"},{"v":-0.45,"d":0.27,"s":"Q"},{"v":-0.35,"d":0.28,"s":"Q"},{"v":-0.25,"d":0.28,"s":"Q"},{"v":-0.15,"d":0.28,"s":"Q"},{"v":-0.05,"d":0.33,"s":"Q"},{"v":0.05,"d":0.33,"s":"Q"},{"v":0.15,"d":0.38,"s":"Q"},{"v":0.25,"d":0.33,"s":"Q"},{"v":0.35,"d":0.28,"s":"Q"},{"v":0.45,"d":0.32,"s":"Q"},{"v":0.55,"d":0.41,"s":"Q"},{"v":0.65,"d":0.41,"s":"Q"},{"v":0.75,"d":0.6,"s":"Q"},{"v":0.85,"d":0.79,"s":"Q"},{"v":0.95,"d":2.7,"s":"Q"}
],
"d":[
{"v":-0.72,"d":0.02,"s":"P"},{"v":-0.55,"d":0.03,"s":"P"},{"v":-0.4,"d":0.08,"s":"P"},{"v":-0.26,"d":0.35,"s":"P"},{"v":-0.11,"d":1.56,"s":"P"},{"v":-0.04,"d":2.78,"s":"P"},{"v":0.05,"d":2.25,"s":"P"},{"v":0.12,"d":2.08,"s":"P"},{"v":0.28,"d":0.5,"s":"P"},{"v":0.42,"d":0.27,"s":"P"},{"v":0.5,"d":0.04,"s":"P"},{"v":0.72,"d":0.02,"s":"P"},
{"v":-0.13,"d":0.0,"s":"Q"},{"v":-0.04,"d":2.4,"s":"Q"},{"v":0.01,"d":8.2,"s":"Q"},{"v":0.03,"d":6.3,"s":"Q"},{"v":0.065,"d":6.5,"s":"Q"},{"v":0.165,"d":0.0,"s":"Q"}
]
},
"concat":[
{
"width":181,"height":125,
"title":{"text":"(a)","dx":-27,"dy":24},
"data":{"name":"a"},
"resolve":{"axis":{"x":"independent","y":"independent"}},
"layer":[
{"mark":{"type":"point","strokeWidth":0.9,"opacity":1},
"encoding":{
"x":{"field":"p","type":"quantitative","scale":{"domain":[-1,1],"nice":false,"zero":false},"axis":{"values":[-1,-0.5,0,0.5,1],"format":"~g","title":"Pⁱₐ₀","titlePadding":2}},
"y":{"field":"q","type":"quantitative","scale":{"domain":[-1,1],"nice":false,"zero":false},"axis":{"values":[-1,-0.5,0,0.5,1],"format":"~g","title":"Qⁱₐ₀","titleX":-39}},
"shape":{"field":"s","type":"nominal","scale":{"domain":["r","b"],"range":["circle","square"]},"legend":{"title":null,"orient":"none","legendX":23,"legendY":-2,"padding":0,"rowPadding":1,"labelOffset":5,"labelFont":"Liberation Serif","labelFontStyle":"italic","labelFontSize":12,"symbolStrokeWidth":1,"labelExpr":"datum.label == 'r' ? 'i = 0' : 'i = L/2 − 1'"}},
"stroke":{"field":"s","type":"nominal","scale":{"domain":["r","b"],"range":["#ff2d2d","#2b3cff"]},"legend":{"title":null}},
"fill":{"field":"s","type":"nominal","scale":{"domain":["r","b"],"range":["transparent","#2b3cff"]},"legend":{"title":null}},
"size":{"field":"s","type":"nominal","scale":{"domain":["r","b"],"range":[20,8]},"legend":{"title":null}}
}},
{"data":{"values":[{}]},"mark":{"type":"text","text":"W = 10","align":"left","baseline":"middle","font":"Liberation Serif","fontSize":11.5,"fill":"#222"},"encoding":{"x":{"datum":0.27,"axis":{"orient":"top","labels":false,"title":null,"values":[-1,-0.5,0,0.5,1]}},"y":{"datum":-0.56,"axis":{"orient":"right","labels":false,"title":null,"values":[-1,-0.5,0,0.5,1]}}}},
{"data":{"values":[{}]},"mark":{"type":"text","text":"Localized","align":"left","baseline":"middle","font":"Liberation Serif","fontSize":11.5,"fill":"#222"},"encoding":{"x":{"datum":0.27,"axis":null},"y":{"datum":-0.77,"axis":null}}}
]
},
{
"width":186,"height":125,
"title":{"text":"(b)","dx":-28,"dy":24},
"data":{"name":"b"},
"resolve":{"axis":{"x":"independent","y":"independent"}},
"layer":[
{"mark":{"type":"point","strokeWidth":0.9,"opacity":1},
"encoding":{
"x":{"field":"p","type":"quantitative","scale":{"domain":[-1,1],"nice":false,"zero":false},"axis":{"values":[-1,-0.5,0,0.5,1],"format":"~g","title":"Pⁱₐ₀","titlePadding":2}},
"y":{"field":"q","type":"quantitative","scale":{"domain":[-1,1],"nice":false,"zero":false},"axis":{"values":[-1,-0.5,0,0.5,1],"format":"~g","title":"Qⁱₐ₀","titleX":-22}},
"shape":{"field":"s","type":"nominal","scale":{"domain":["r","b"],"range":["circle","square"]},"legend":{"title":null,"orient":"none","legendX":129,"legendY":-2,"padding":0,"rowPadding":1,"labelOffset":5,"labelFont":"Liberation Serif","labelFontStyle":"italic","labelFontSize":12,"symbolStrokeWidth":1,"labelExpr":"datum.label == 'r' ? 'i = 0' : 'i = L/2 − 1'"}},
"stroke":{"field":"s","type":"nominal","scale":{"domain":["r","b"],"range":["#ff2d2d","#2b3cff"]},"legend":{"title":null}},
"fill":{"field":"s","type":"nominal","scale":{"domain":["r","b"],"range":["transparent","#2b3cff"]},"legend":{"title":null}},
"size":{"field":"s","type":"nominal","scale":{"domain":["r","b"],"range":[20,9]},"legend":{"title":null}}
}},
{"data":{"values":[{}]},"mark":{"type":"text","text":"W = 2.5","align":"left","baseline":"middle","font":"Liberation Serif","fontSize":11.5,"fill":"#222"},"encoding":{"x":{"datum":0.25,"axis":{"orient":"top","labels":false,"title":null,"values":[-1,-0.5,0,0.5,1]}},"y":{"datum":-0.58,"axis":{"orient":"right","labels":false,"title":null,"values":[-1,-0.5,0,0.5,1]}}}},
{"data":{"values":[{}]},"mark":{"type":"text","text":"Delocalized","align":"left","baseline":"middle","font":"Liberation Serif","fontSize":11.5,"fill":"#222"},"encoding":{"x":{"datum":0.25,"axis":null},"y":{"datum":-0.79,"axis":null}}}
]
},
{
"width":181,"height":124,
"title":{"text":"(c)","dx":-27,"dy":22},
"data":{"name":"c"},
"resolve":{"axis":{"x":"independent","y":"independent"}},
"layer":[
{"mark":{"type":"line","strokeWidth":1.8},
"encoding":{
"x":{"field":"v","type":"quantitative","scale":{"domain":[-1,1],"nice":false,"zero":false},"axis":{"values":[-1,-0.5,0,0.5,1],"format":"~g","title":"Pᴸᐟ²⁻¹ₐ₀, Qᴸᐟ²⁻¹ₐ₀","titleFontSize":12,"titlePadding":6,"titleX":70}},
"y":{"field":"d","type":"quantitative","scale":{"domain":[0,4],"nice":false},"axis":{"values":[0,1,2,3,4],"title":"probability distribution","titleFont":"Liberation Sans","titleFontSize":10,"titleFontStyle":"normal","titleX":-10}},
"color":{"field":"s","type":"nominal","scale":{"domain":["P","Q"],"range":["#3c5aff","#ff3030"]},"legend":{"title":null,"orient":"none","legendX":15,"legendY":1,"padding":0,"rowPadding":-3,"labelOffset":2,"symbolType":"stroke","symbolSize":280,"symbolStrokeWidth":2,"labelFont":"DejaVu Serif","labelFontStyle":"italic","labelFontSize":10,"labelExpr":"datum.label == 'P' ? 'Pᴸᐟ²⁻¹ₐ₀' : 'Qᴸᐟ²⁻¹ₐ₀'"}},
"strokeDash":{"field":"s","type":"nominal","scale":{"domain":["P","Q"],"range":[[1,0],[5,3]]},"legend":{"title":null}}
}},
{"data":{"values":[{}]},"mark":{"type":"text","text":""},"encoding":{"x":{"datum":0,"axis":{"orient":"top","labels":false,"title":null,"values":[-1,-0.5,0,0.5,1]}},"y":{"datum":0,"axis":{"orient":"right","labels":false,"title":null,"values":[0,1,2,3,4]}}}}
]
},
{
"width":186,"height":124,
"title":{"text":"(d)","dx":-29,"dy":22},
"data":{"name":"d"},
"resolve":{"axis":{"x":"independent","y":"independent"}},
"layer":[
{"mark":{"type":"line","strokeWidth":1.8},
"encoding":{
"x":{"field":"v","type":"quantitative","scale":{"domain":[-1,1],"nice":false,"zero":false},"axis":{"values":[-1,-0.5,0,0.5,1],"format":"~g","title":"Pᴸᐟ²⁻¹ₐ₀, Qᴸᐟ²⁻¹ₐ₀","titleFontSize":12,"titlePadding":6,"titleX":99}},
"y":{"field":"d","type":"quantitative","scale":{"domain":[0,10],"nice":false},"axis":{"values":[0,2,4,6,8,10],"title":"probability distribution","titleFont":"Liberation Sans","titleFontSize":10,"titleFontStyle":"normal","titleX":-17}},
"color":{"field":"s","type":"nominal","scale":{"domain":["P","Q"],"range":["#3c5aff","#ff3030"]},"legend":{"title":null,"orient":"none","legendX":144,"legendY":1,"padding":0,"rowPadding":-3,"labelOffset":2,"symbolType":"stroke","symbolSize":280,"symbolStrokeWidth":2,"labelFont":"DejaVu Serif","labelFontStyle":"italic","labelFontSize":10,"labelExpr":"datum.label == 'P' ? 'Pᴸᐟ²⁻¹ₐ₀' : 'Qᴸᐟ²⁻¹ₐ₀'"}},
"strokeDash":{"field":"s","type":"nominal","scale":{"domain":["P","Q"],"range":[[1,0],[5,3]]},"legend":{"title":null}}
}},
{"data":{"values":[{}]},"mark":{"type":"text","text":""},"encoding":{"x":{"datum":0,"axis":{"orient":"top","labels":false,"title":null,"values":[-1,-0.5,0,0.5,1]}},"y":{"datum":0,"axis":{"orient":"right","labels":false,"title":null,"values":[0,2,4,6,8,10]}}}}
]
}
],
"columns":2,
"bounds":"flush",
"spacing":{"row":48,"column":45},
"resolve":{"scale":{"x":"independent","y":"independent","shape":"independent","stroke":"independent","fill":"independent","size":"independent","color":"independent","strokeDash":"independent"},"legend":{"shape":"independent","stroke":"independent","fill":"independent","size":"independent","color":"independent","strokeDash":"independent"}}
}
